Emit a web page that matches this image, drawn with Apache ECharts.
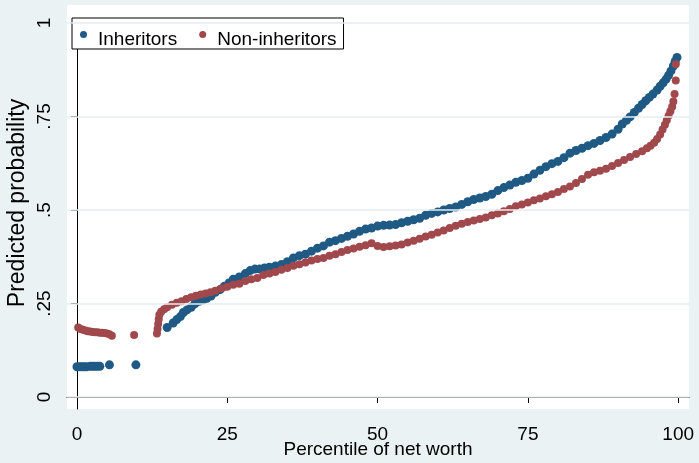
<!DOCTYPE html>
<html>
<head>
<meta charset="utf-8">
<script src="https://cdn.jsdelivr.net/npm/echarts@6/dist/echarts.min.js"></script>
<style>html,body{margin:0;padding:0;background:#eaf2f3}#c{width:699px;height:463px}</style>
</head>
<body>
<div id="c"></div>
<script>
// Percentile of net worth (x) and predicted probability (y) for each series
var inhPct = [0,0.4,0.8,1.2,1.6,2.2,2.6,3.0,3.4,3.8,5.4,9.8,
  15.0,16.0,16.6,17.2,17.7,18.3,19.0,19.6,20.3,21.0,21.6,22.3,23.0,23.8,24.5,25.3,26.0,27.0,28.0,28.8,29.6,30.4,31.2,32.0,33.0,34.0,35.0,36.0,37.0,38.0,39.0,40.0,
  41.0,42.0,43.0,44.0,45.0,46.0,47.0,48.0,49.0,50.0,51.0,52.0,53.0,54.0,55.0,56.0,57.0,58.0,59.0,60.0,61.0,62.0,63.0,64.0,65.0,66.0,67.0,68.0,69.0,70.0,
  71.0,72.0,73.0,74.0,75.0,76.0,77.0,78.0,79.0,80.0,81.0,82.0,83.0,84.0,85.0,86.0,87.0,88.0,89.0,90.0,90.7,91.4,92.0,92.7,93.4,94.0,94.6,95.2,95.8,96.5,97.0,97.5,98.0,98.4,98.8,99.2,99.5,99.8];
var inhProb = [0.081,0.081,0.081,0.081,0.081,0.082,0.082,0.082,0.082,0.082,0.086,0.086,
  0.186,0.198,0.207,0.215,0.226,0.233,0.240,0.249,0.256,0.260,0.264,0.270,0.280,0.287,0.296,0.305,0.315,0.321,0.330,0.338,0.342,0.342,0.345,0.347,0.350,0.354,0.362,0.372,0.378,0.382,0.390,0.398,
  0.404,0.414,0.418,0.424,0.430,0.436,0.443,0.449,0.452,0.457,0.459,0.460,0.461,0.466,0.470,0.474,0.478,0.486,0.491,0.495,0.500,0.504,0.508,0.515,0.522,0.528,0.532,0.536,0.542,0.552,
  0.560,0.567,0.574,0.579,0.585,0.596,0.606,0.616,0.624,0.630,0.640,0.652,0.659,0.665,0.672,0.678,0.686,0.694,0.703,0.716,0.730,0.740,0.749,0.761,0.772,0.782,0.792,0.801,0.810,0.821,0.831,0.840,0.850,0.860,0.872,0.885,0.897,0.908];

var nonPct = [0.2,0.6,1.0,1.4,1.8,2.2,2.6,3.0,3.4,3.8,4.2,4.6,5.0,5.4,5.8,9.5,
  13.3,13.4,13.5,13.6,13.7,14.0,14.5,15.0,15.8,16.6,17.4,18.2,19.0,19.8,20.6,21.4,22.2,23.0,24.0,25.0,26.0,27.0,28.0,29.0,30.0,31.0,32.0,33.0,34.0,35.0,
  36.0,37.0,38.0,39.0,40.0,41.0,42.0,43.0,44.0,45.0,46.0,47.0,48.0,49.0,50.0,51.0,52.0,53.0,54.0,55.0,56.0,57.0,58.0,59.0,60.0,61.0,62.0,63.0,64.0,65.0,
  66.0,67.0,68.0,69.0,70.0,71.0,72.0,73.0,74.0,75.0,76.0,77.0,78.0,79.0,80.0,81.0,82.0,83.0,84.0,85.0,86.0,87.0,88.0,89.0,90.0,91.0,92.0,93.0,94.0,94.8,
  95.4,96.0,96.5,97.0,97.4,97.8,98.1,98.4,98.7,99.0,99.2,99.4,99.6,99.6];
var nonProb = [0.186,0.182,0.180,0.178,0.176,0.175,0.174,0.173,0.173,0.172,0.172,0.171,0.170,0.168,0.164,0.166,
  0.170,0.182,0.195,0.208,0.220,0.228,0.235,0.240,0.247,0.252,0.256,0.262,0.267,0.271,0.274,0.277,0.280,0.284,0.290,0.295,0.300,0.303,0.310,0.315,0.318,0.326,0.330,0.334,0.340,0.345,
  0.351,0.355,0.360,0.365,0.369,0.372,0.378,0.382,0.388,0.393,0.397,0.402,0.406,0.411,0.404,0.401,0.403,0.405,0.408,0.413,0.418,0.423,0.429,0.434,0.440,0.445,0.452,0.458,0.463,0.468,
  0.472,0.476,0.480,0.486,0.491,0.497,0.503,0.510,0.515,0.520,0.526,0.531,0.537,0.542,0.548,0.556,0.563,0.572,0.583,0.594,0.601,0.605,0.610,0.618,0.626,0.634,0.642,0.650,0.657,0.665,
  0.672,0.680,0.690,0.702,0.715,0.728,0.740,0.752,0.764,0.776,0.790,0.810,0.846,0.890];

var xTicks = [0,25,50,75,100];
var yTicks = [0,0.25,0.5,0.75,1];
var seriesNames = ['Inheritors','Non-inheritors'];

var X_MIN = -1.66, X_MAX = 101.8, Y_MIN = -0.032, Y_MAX = 1;
var FONT = '"Liberation Sans", Arial, sans-serif';

function zip(a, b){ return a.map(function(v,i){ return [v, b[i]]; }); }

var gridLines = yTicks.map(function(v){ return [{coord:[X_MIN, v]}, {coord:[X_MAX, v]}]; });

var chart = echarts.init(document.getElementById('c'), null, {renderer:'canvas'});
chart.setOption({
  backgroundColor: '#eaf2f3',
  animation: false,
  textStyle: {fontFamily: FONT},
  grid: [
    {left: 67, right: 10, top: 5, bottom: 54, show: true, backgroundColor: '#ffffff', borderWidth: 0, outerBoundsMode: 'none', containLabel: false, z: 0},
    {left: 67, right: 10, top: 23, bottom: 54, show: false, outerBoundsMode: 'none', containLabel: false}
  ],
  legend: {
    left: 72, top: 18,
    data: seriesNames,
    icon: 'circle', itemWidth: 7, itemHeight: 7, itemGap: 22,
    backgroundColor: '#fff', borderColor: '#000', borderWidth: 1, borderRadius: 0,
    padding: [2, 7, 0, 8],
    formatter: function(name){ return '{t|' + name + '}'; },
    textStyle: {fontSize: 19, color: '#000', fontFamily: FONT,
      rich: {t: {fontSize: 19, color: '#000', fontFamily: FONT, lineHeight: 22, padding: [10, 0, 0, 6]}}}
  },
  xAxis: [
    {gridIndex: 0, type: 'value', min: 0, max: 1, show: false},
    {
      gridIndex: 1, type: 'value', min: X_MIN, max: X_MAX,
      name: 'Percentile of net worth', nameLocation: 'middle', nameGap: 31, nameMoveOverlap: false,
      nameTextStyle: {fontSize: 19, color: '#000', fontFamily: FONT},
      axisLine: {show: true, lineStyle: {color: '#000', width: 1}},
      axisTick: {show: true, inside: false, length: 6, customValues: xTicks, lineStyle: {color: '#000'}},
      axisLabel: {customValues: xTicks, fontSize: 19, color: '#000', margin: 16, fontFamily: FONT},
      splitLine: {show: false}
    }
  ],
  yAxis: [
    {gridIndex: 0, type: 'value', min: 0, max: 1, show: false},
    {
      gridIndex: 1, type: 'value', min: Y_MIN, max: Y_MAX,
      name: 'Predicted probability', nameLocation: 'middle', nameGap: 38, nameMoveOverlap: false,
      nameTextStyle: {fontSize: 23, color: '#000', fontFamily: FONT, padding: [0, 0, 0, 26]},
      axisLine: {show: true, lineStyle: {color: '#000', width: 1}},
      axisTick: {show: true, inside: false, length: 6, customValues: yTicks, lineStyle: {color: '#000'}},
      axisLabel: {customValues: yTicks, rotate: 90, fontSize: 19, color: '#000', margin: 13, fontFamily: FONT,
        formatter: function(v){ if (v === 0) return '0'; if (v === 1) return '1'; return String(v).replace(/^0\./, '.'); }},
      splitLine: {show: false}
    }
  ],
  series: [
    {
      type: 'scatter', name: '_grid', xAxisIndex: 1, yAxisIndex: 1, data: [], z: 1, silent: true, clip: false,
      markLine: {silent: true, symbol: 'none', label: {show: false}, animation: false,
        lineStyle: {color: '#e6eef0', width: 1.5, type: 'solid'}, data: gridLines}
    },
    {
      type: 'scatter', name: seriesNames[0], xAxisIndex: 1, yAxisIndex: 1, data: zip(inhPct, inhProb), z: 3,
      symbol: 'circle', symbolSize: 9, itemStyle: {color: '#1f5a85', opacity: 1}
    },
    {
      type: 'scatter', name: seriesNames[1], xAxisIndex: 1, yAxisIndex: 1, data: zip(nonPct, nonProb), z: 4,
      symbol: 'circle', symbolSize: 8, itemStyle: {color: '#a0484c', opacity: 1}
    }
  ]
});
</script>
</body>
</html>
